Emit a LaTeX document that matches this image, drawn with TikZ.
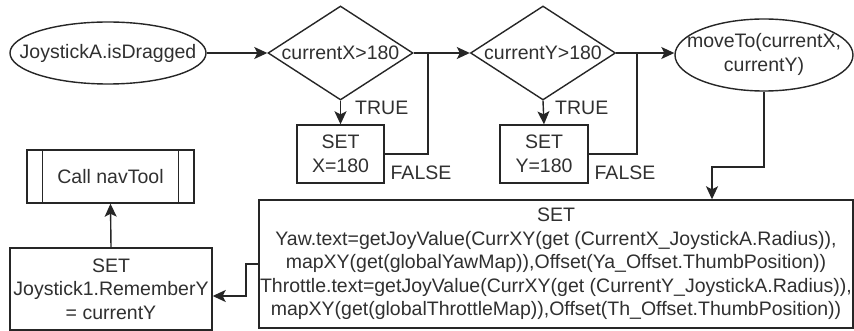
\documentclass[tikz,border=0pt]{standalone}
\usepackage{fontspec}
\setmainfont{Liberation Sans}
\usetikzlibrary{shapes.geometric,arrows.meta}
\definecolor{ink}{HTML}{262626}
\definecolor{txt}{HTML}{303030}
\begin{document}
\begin{tikzpicture}[x=1pt,y=-1pt,
  every node/.style={font=\fontsize{19.5}{23.5}\selectfont, text=txt},
  ln/.style={draw=ink, line width=1.4pt},
  arr/.style={ln, -{Stealth[length=13pt,width=12pt,inset=3pt]}},
  box/.style={draw=ink, line width=1.4pt, rectangle, inner sep=0pt, align=center, fill=white},
  dia/.style={draw=ink, line width=1.4pt, diamond, inner sep=0pt, aspect=1.54, minimum width=145pt, minimum height=94pt, fill=white},
  ell/.style={draw=ink, line width=1.4pt, ellipse, inner sep=0pt, fill=white},
  lbl/.style={inner sep=0pt}
]
\fill[white] (0,0) rectangle (854,331);
\useasboundingbox (0,0) rectangle (854,331);

\node[ell, minimum width=196pt, minimum height=62pt] (start) at (108,53) {\makebox[0pt]{JoystickA.isDragged}};
\node[dia] (d1) at (340.5,53) {\makebox[0pt]{currentX>180}};
\node[dia] (d2) at (543,53) {\makebox[0pt]{currentY>180}};
\node[ell, minimum width=178pt, minimum height=72pt] (mv) at (764,55) {\makebox[0pt]{\begin{tabular}{@{}c@{}}moveTo(currentX,\\currentY)\end{tabular}}};

\node[box, minimum width=87pt, minimum height=58pt] (sx) at (340.5,154) {SET\\X=180};
\node[box, minimum width=88pt, minimum height=58pt] (sy) at (544,154) {SET\\Y=180};

\node[box, minimum width=594pt, minimum height=128pt] (big) at (556,264) {SET\\
Yaw.text=getJoyValue(CurrXY(get (CurrentX\_JoystickA.Radius)),\\
mapXY(get(globalYawMap)),Offset(Ya\_Offset.ThumbPosition))\\
Throttle.text=getJoyValue(CurrXY(get (CurrentY\_JoystickA.Radius)),\\
mapXY(get(globalThrottleMap)),Offset(Th\_Offset.ThumbPosition))};

\node[box, minimum width=202pt, minimum height=82pt] (js) at (111,289) {SET\\Joystick1.RememberY\\= currentY};
\node[box, minimum width=167pt, minimum height=53pt] (nav) at (110.5,176.5) {Call navTool};
\draw[ln] ([xshift=16pt]nav.north west) -- ([xshift=16pt]nav.south west);
\draw[ln] ([xshift=-16pt]nav.north east) -- ([xshift=-16pt]nav.south east);

\node[lbl, anchor=west] (t1) at (355,108) {TRUE};
\node[lbl, anchor=west] (t2) at (555,108) {TRUE};
\node[lbl] (f1) at (421,173) {FALSE};
\node[lbl] (f2) at (625,173) {FALSE};

\coordinate (j1) at (428,53);
\coordinate (j2) at (637,53);
\coordinate (k1) at (764,167);
\coordinate (k2) at (712,167);
\coordinate (c1) at (246,264);
\coordinate (c2) at (246,296);

\draw[arr] (start.east) -- (d1.west);
\draw[arr] (d1.east) -- (d2.west);
\draw[arr] (d2.east) -- (d2.east -| mv.west);
\draw[arr] (d1.south) -- (sx.north);
\draw[arr] (d2.south) -- (sy.north);
\draw[ln] (sx.east) -| (j1);
\draw[ln] (sy.east) -| (j2);
\draw[arr] (mv.south -| k1) -- (k1) -- (k2) -- (k2 |- big.north);
\draw[arr] (big.west) -- (c1) -- (c2) -- (c2 -| js.east);
\draw[arr] (js.north) -- (nav.south);
\end{tikzpicture}
\end{document}
